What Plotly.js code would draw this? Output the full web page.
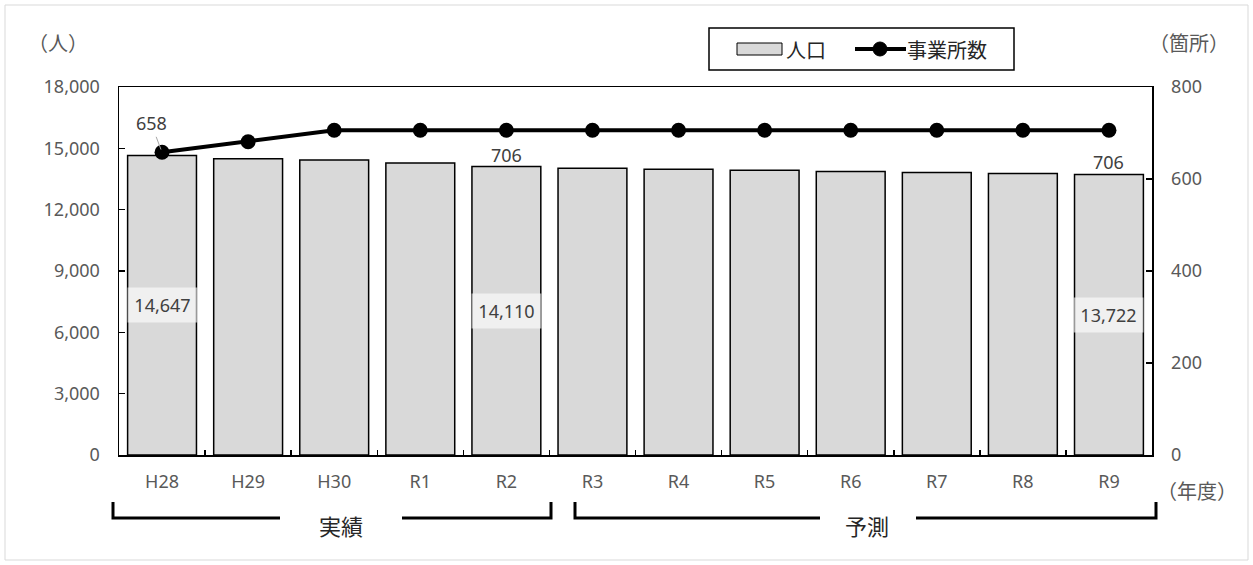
<!DOCTYPE html>
<html>
<head>
<meta charset="utf-8">
<script src="https://cdn.plot.ly/plotly-3.0.1.min.js"></script>
<style>html,body{margin:0;padding:0;background:#fff;}</style>
</head>
<body>
<div id="chart" style="width:1253px;height:565px;"></div>
<script>
// ---- data ----
const years = ['H28','H29','H30','R1','R2','R3','R4','R5','R6','R7','R8','R9'];
const population = [14647,14490,14430,14280,14110,14030,13980,13930,13870,13820,13770,13722];
const offices = [658,681,706,706,706,706,706,706,706,706,706,706];
const seriesNames = ['人口', '事業所数'];
const popLabelIdx = [0,4,11];
const officeLabelIdx = [0,4,11];

const W = 1253, H = 565;
const L = 119, R = 1152, T = 87, B = 455;
const px = x => (x - L) / (R - L);
const py = y => (B - y) / (B - T);

const grey = '#595959';
const dark = '#404040';
const jp = '"Noto Sans CJK JP", "Noto Sans", sans-serif';
const num = '"Noto Sans", sans-serif';

const traces = [
  {
    type: 'bar', name: seriesNames[0], x: years, y: population,
    marker: {color: '#d9d9d9', line: {color: '#000', width: 1.5}},
    yaxis: 'y', showlegend: false
  },
  {
    type: 'scatter', mode: 'lines+markers', name: seriesNames[1], x: years, y: offices,
    line: {color: '#000', width: 4}, marker: {color: '#000', size: 15},
    yaxis: 'y2', showlegend: false, cliponaxis: false
  }
];

const annotations = [];
popLabelIdx.forEach(i => {
  annotations.push({
    x: years[i], y: population[i] / 2, xref: 'x', yref: 'y',
    text: population[i].toLocaleString('en-US'), showarrow: false,
    font: {family: num, size: 18, color: dark},
    bgcolor: 'rgba(255,255,255,0.6)', borderpad: 5, width: 59, height: 24
  });
});
// office labels
annotations.push({
  x: years[officeLabelIdx[0]], y: offices[officeLabelIdx[0]], xref: 'x', yref: 'y2',
  text: String(offices[officeLabelIdx[0]]), showarrow: true, arrowhead: 0,
  arrowcolor: '#a6a6a6', arrowwidth: 1, ax: -11, ay: -29, standoff: 3,
  font: {family: num, size: 18, color: dark}
});
annotations.push({
  x: years[officeLabelIdx[1]], y: offices[officeLabelIdx[1]], xref: 'x', yref: 'y2',
  text: String(offices[officeLabelIdx[1]]), showarrow: false, yshift: -25,
  font: {family: num, size: 18, color: dark}
});
annotations.push({
  x: years[officeLabelIdx[2]], y: offices[officeLabelIdx[2]], xref: 'x', yref: 'y2',
  text: String(offices[officeLabelIdx[2]]), showarrow: false, yshift: -32,
  font: {family: num, size: 18, color: dark}
});
// unit labels
const unit = (x, y, t) => ({xref:'paper', yref:'paper', x: px(x), y: py(y), xanchor:'center', yanchor:'middle',
  text: t, showarrow:false, font:{family: jp, size: 20, color: grey}});
annotations.push(unit(58, 43, '（人）'));
annotations.push(unit(1189, 43, '（箇所）'));
annotations.push(unit(1197, 490, '（年度）'));
// bracket labels
const blabel = (x, t) => ({xref:'paper', yref:'paper', x: px(x), y: py(525), xanchor:'center', yanchor:'middle',
  text: t, showarrow:false, font:{family: jp, size: 22, color: '#262626'}});
annotations.push(blabel(341, '実績'));
annotations.push(blabel(867, '予測'));
// legend texts
const ltext = (x, t) => ({xref:'paper', yref:'paper', x: px(x), y: py(49), xanchor:'left', yanchor:'middle',
  text: t, showarrow:false, font:{family: jp, size: 20, color: '#262626'}});
annotations.push(ltext(784, seriesNames[0]));
annotations.push(ltext(905, seriesNames[1]));

const yTop = py(502), yLine = py(518);
const bracket = (x0, x1, x2, x3) => ([
  {type:'path', xref:'paper', yref:'paper',
   path:`M ${px(x0)} ${yTop} L ${px(x0)} ${yLine} L ${px(x1)} ${yLine}`,
   line:{color:'#000', width:3}},
  {type:'path', xref:'paper', yref:'paper',
   path:`M ${px(x2)} ${yLine} L ${px(x3)} ${yLine} L ${px(x3)} ${yTop}`,
   line:{color:'#000', width:3}}
]);

const shapes = [
  ...bracket(113, 280, 402, 551),
  ...bracket(575, 820, 916, 1156),
  // outer chart frame
  {type:'rect', xref:'paper', yref:'paper', x0: px(5), x1: px(1248), y0: py(560), y1: py(5),
   line:{color:'#d9d9d9', width:1}, layer:'below'},
  // legend box
  {type:'rect', xref:'paper', yref:'paper', x0: px(709), x1: px(1014), y0: py(70), y1: py(28),
   line:{color:'#000', width:1.5}, fillcolor:'#fff'},
  // legend bar swatch
  {type:'rect', xref:'paper', yref:'paper', x0: px(737), x1: px(782), y0: py(55), y1: py(43),
   line:{color:'#000', width:1}, fillcolor:'#d9d9d9'},
  // legend line symbol
  {type:'line', xref:'paper', yref:'paper', x0: px(855), x1: px(906), y0: py(49), y1: py(49),
   line:{color:'#000', width:4}},
  {type:'circle', xref:'paper', yref:'paper', x0: px(873), x1: px(887), y0: py(56), y1: py(42),
   line:{color:'#000', width:1}, fillcolor:'#000'}
];

const layout = {
  width: W, height: H,
  margin: {l: L, r: W - R, t: T, b: H - B, pad: 0},
  paper_bgcolor: '#fff', plot_bgcolor: '#fff',
  bargap: 0.2,
  showlegend: false,
  xaxis: {
    type: 'category', range: [-0.5, 11.5], showline: true, linecolor: '#000', linewidth: 1.5, mirror: true,
    ticks: 'inside', tickson: 'boundaries', ticklen: 5, tickcolor: '#000', tickwidth: 1.5,
    tickfont: {family: num, size: 18, color: grey}, ticklabelstandoff: 10,
    showgrid: false, zeroline: false
  },
  yaxis: {
    range: [0, 18000], dtick: 3000, tickformat: ',d',
    showline: true, linecolor: '#000', linewidth: 1.5, mirror: true,
    ticks: 'inside', ticklen: 6, tickcolor: '#000', tickwidth: 1.5,
    tickfont: {family: num, size: 18, color: grey}, ticklabelstandoff: 14,
    showgrid: false, zeroline: false
  },
  yaxis2: {
    overlaying: 'y', side: 'right', range: [0, 800], dtick: 200,
    showline: true, linecolor: '#000', linewidth: 1.5,
    ticks: 'inside', ticklen: 6, tickcolor: '#000', tickwidth: 1.5,
    tickfont: {family: num, size: 18, color: grey}, ticklabelstandoff: 14,
    showgrid: false, zeroline: false
  },
  annotations: annotations,
  shapes: shapes
};

Plotly.newPlot('chart', traces, layout, {displayModeBar: false, staticPlot: true});
</script>
</body>
</html>
